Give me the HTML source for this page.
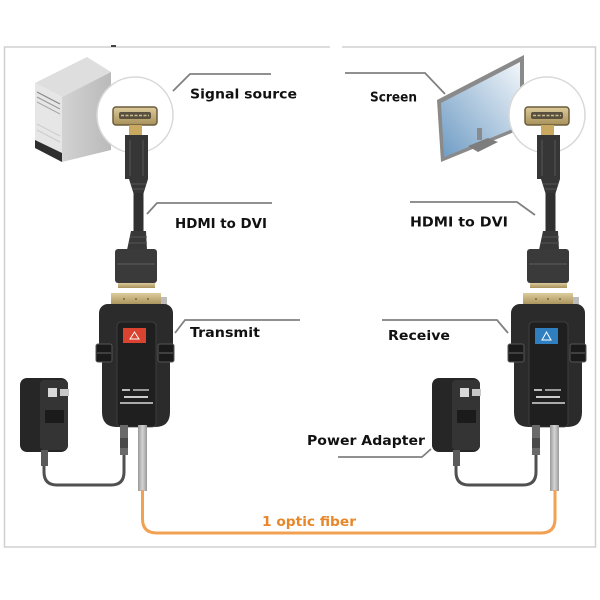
<!DOCTYPE html>
<html><head><meta charset="utf-8">
<style>
html,body{margin:0;padding:0;background:#fff;}
svg{display:block;}
.lb{font-family:"DejaVu Sans","Liberation Sans",sans-serif;font-weight:bold;font-size:13.5px;fill:#111;}
</style></head><body>
<svg width="600" height="600" viewBox="0 0 600 600" xmlns="http://www.w3.org/2000/svg">
<defs>
 <linearGradient id="scr" x1="0" y1="1" x2="1" y2="0">
  <stop offset="0" stop-color="#6f9cc4"/><stop offset="1" stop-color="#f2f6fa"/>
 </linearGradient>
 <linearGradient id="side" x1="0" y1="0" x2="1" y2="0">
  <stop offset="0" stop-color="#d2d2d2"/><stop offset="1" stop-color="#bababa"/>
 </linearGradient>
 <linearGradient id="gold" x1="0" y1="0" x2="0" y2="1">
  <stop offset="0" stop-color="#dccb9c"/><stop offset="1" stop-color="#a8915a"/>
 </linearGradient>
 <linearGradient id="fib" x1="0" y1="0" x2="1" y2="0">
  <stop offset="0" stop-color="#9a9a9a"/><stop offset="0.5" stop-color="#d4d4d4"/><stop offset="1" stop-color="#999"/>
 </linearGradient>
 <g id="chain">
  <circle cx="135" cy="115" r="38" fill="#fff" stroke="#d8d8d8" stroke-width="1.5"/>
  <rect x="113" y="107" width="44" height="18" rx="3" fill="url(#gold)" stroke="#6b5b3a" stroke-width="1.5"/>
  <rect x="119" y="112" width="32" height="7" rx="2" fill="#5a5040"/>
  <line x1="121" y1="115.5" x2="149" y2="115.5" stroke="#cbbb8d" stroke-width="1.5" stroke-dasharray="3 1.5"/>
  <rect x="129" y="125" width="13" height="11" fill="#c9a860"/>
  <path d="M125 135 L148 135 L148 179 L143 195 L134 195 L129 179 L125 179 Z" fill="#363636"/>
  <line x1="130" y1="140" x2="130" y2="176" stroke="#555" stroke-width="1"/>
  <line x1="143" y1="140" x2="143" y2="176" stroke="#555" stroke-width="1"/>
  <line x1="131" y1="184" x2="146" y2="184" stroke="#555" stroke-width="1"/>
  <line x1="132" y1="189" x2="145" y2="189" stroke="#555" stroke-width="1"/>
  <rect x="133.5" y="193" width="10" height="40" fill="#303030"/>
  <path d="M131 231 L146 231 L147 250 L127 250 Z" fill="#383838"/>
  <line x1="130" y1="237" x2="147" y2="237" stroke="#555" stroke-width="1"/>
  <line x1="129" y1="243" x2="147" y2="243" stroke="#555" stroke-width="1"/>
  <rect x="115" y="249" width="42" height="34" rx="3" fill="#3a3a3a"/>
  <line x1="117" y1="264" x2="155" y2="264" stroke="#5e5e5e" stroke-width="1"/>
  <rect x="118" y="283" width="37" height="5" fill="url(#gold)"/>
  <rect x="111" y="293" width="50" height="12" fill="url(#gold)"/>
  <circle cx="124" cy="299" r="1" fill="#7a6840"/><circle cx="136" cy="299" r="1" fill="#7a6840"/><circle cx="148" cy="299" r="1" fill="#7a6840"/>
  <rect x="161" y="297" width="6" height="10" fill="#bcbcbc"/>
  <rect x="99" y="304" width="74" height="60" rx="9" fill="#2b2b2b"/>
  <path d="M102 358 L170 358 L170 412 Q170 427 155 427 L117 427 Q102 427 102 412 Z" fill="#2b2b2b"/>
  <rect x="117" y="322" width="39" height="105" rx="4" fill="#1f1f1f" stroke="#444" stroke-width="0.8"/>
  <rect x="96" y="344" width="16" height="18" rx="2" fill="#1a1a1a" stroke="#555" stroke-width="1"/>
  <rect x="158" y="344" width="16" height="18" rx="2" fill="#1a1a1a" stroke="#555" stroke-width="1"/>
  <line x1="97" y1="353" x2="111" y2="353" stroke="#666" stroke-width="1"/>
  <line x1="159" y1="353" x2="173" y2="353" stroke="#666" stroke-width="1"/>
  <rect x="122" y="389" width="8" height="2" fill="#bbb"/><rect x="133" y="389" width="16" height="2" fill="#999"/>
  <rect x="124" y="396" width="24" height="2" fill="#ccc"/>
  <rect x="120" y="402" width="33" height="2" fill="#aaa"/>
  <rect x="120" y="425" width="8" height="30" fill="#6a6a6a"/>
  <rect x="120" y="438" width="8" height="10" fill="#4a4a4a"/>
  <rect x="138" y="425" width="9" height="66" fill="url(#fib)"/>
  <path d="M44 455 L44 472 Q44 485 57 485 L111 485 Q124 485 124 472 L124 455" fill="none" stroke="#505050" stroke-width="3"/>
  <rect x="20" y="378" width="48" height="74" rx="7" fill="#262626"/>
  <rect x="40" y="380" width="28" height="70" rx="4" fill="#343434"/>
  <rect x="48" y="388" width="9" height="9" fill="#d8d8d8"/>
  <rect x="60" y="389" width="9" height="7" fill="#c8c8c8"/>
  <rect x="45" y="410" width="19" height="13" fill="#1b1b1b"/>
  <rect x="41" y="450" width="7" height="16" fill="#5a5a5a"/>
 </g>
</defs>

<path d="M330 47 L4.5 47 L4.5 547 L595.5 547 L595.5 47 L342 47" fill="none" stroke="#d0d0d0" stroke-width="1.5"/>
<rect x="111" y="45" width="5" height="2" fill="#444"/>

<polygon points="35,83 87,57 111,72 62,97" fill="#dedede"/>
<polygon points="62,97 111,72 111,150 62,162" fill="url(#side)"/>
<polygon points="35,83 62,97 62,162 35,148" fill="#e6e6e6"/>
<line x1="37" y1="92" x2="60" y2="104" stroke="#888" stroke-width="1.2"/>
<line x1="37" y1="97" x2="60" y2="109" stroke="#999" stroke-width="1"/>
<line x1="37" y1="102" x2="60" y2="114" stroke="#aaa" stroke-width="1"/>
<line x1="37" y1="124" x2="60" y2="136" stroke="#ccc" stroke-width="1"/>
<line x1="37" y1="130" x2="60" y2="142" stroke="#ccc" stroke-width="1"/>
<polygon points="35,140 62,153 62,162 35,148" fill="#2e2e2e"/>

<polygon points="437,100 524,55 524,128 441,162" fill="#8a8a8a"/>
<polygon points="441,103 520,62 520,126 444,157" fill="url(#scr)"/>
<rect x="477" y="128" width="5" height="12" fill="#8a8a8a"/>
<polygon points="468,146 488,138 498,142 478,152" fill="#7d7d7d"/>

<use href="#chain"/>
<use href="#chain" transform="translate(412,0)"/>
<rect x="123" y="328" width="23" height="15" fill="#d9432f"/>
<path d="M130 339 L134.5 332 L139 339 Z" fill="none" stroke="#fff" stroke-width="1"/>
<rect x="535" y="328" width="23" height="16" fill="#2f7fc0"/>
<path d="M542 340 L546.5 332 L551 340 Z" fill="none" stroke="#fff" stroke-width="1"/>

<path d="M142.5 490 L142.5 519 Q142.5 533 157 533 L541 533 Q555 533 555 519 L555 490" fill="none" stroke="#f2a052" stroke-width="3"/>

<g fill="none" stroke="#808080" stroke-width="1.8">
 <polyline points="173,91 190,74 271,74"/>
 <polyline points="147,214 157,203 272,203"/>
 <polyline points="345,73 425,73 445,94"/>
 <polyline points="410,202 517,202 535,215"/>
 <polyline points="175,333 185,320 300,320"/>
 <polyline points="382,320 497,320 508,333"/>
 <polyline points="338,457 422,457 431,449"/>
</g>

<text class="lb" x="190" y="98.5" textLength="107" lengthAdjust="spacingAndGlyphs">Signal source</text>
<text class="lb" x="175" y="228" textLength="92" lengthAdjust="spacingAndGlyphs">HDMI to DVI</text>
<text class="lb" x="370" y="101.5" textLength="47" lengthAdjust="spacingAndGlyphs">Screen</text>
<text class="lb" x="410" y="226.5" textLength="98" lengthAdjust="spacingAndGlyphs">HDMI to DVI</text>
<text class="lb" x="190" y="337" textLength="70" lengthAdjust="spacingAndGlyphs">Transmit</text>
<text class="lb" x="388" y="340" textLength="62" lengthAdjust="spacingAndGlyphs">Receive</text>
<text class="lb" x="307" y="445" textLength="118" lengthAdjust="spacingAndGlyphs">Power Adapter</text>
<text class="lb" x="262" y="526" textLength="94" lengthAdjust="spacingAndGlyphs" style="fill:#e8872a">1 optic fiber</text>
</svg>
</body></html>
